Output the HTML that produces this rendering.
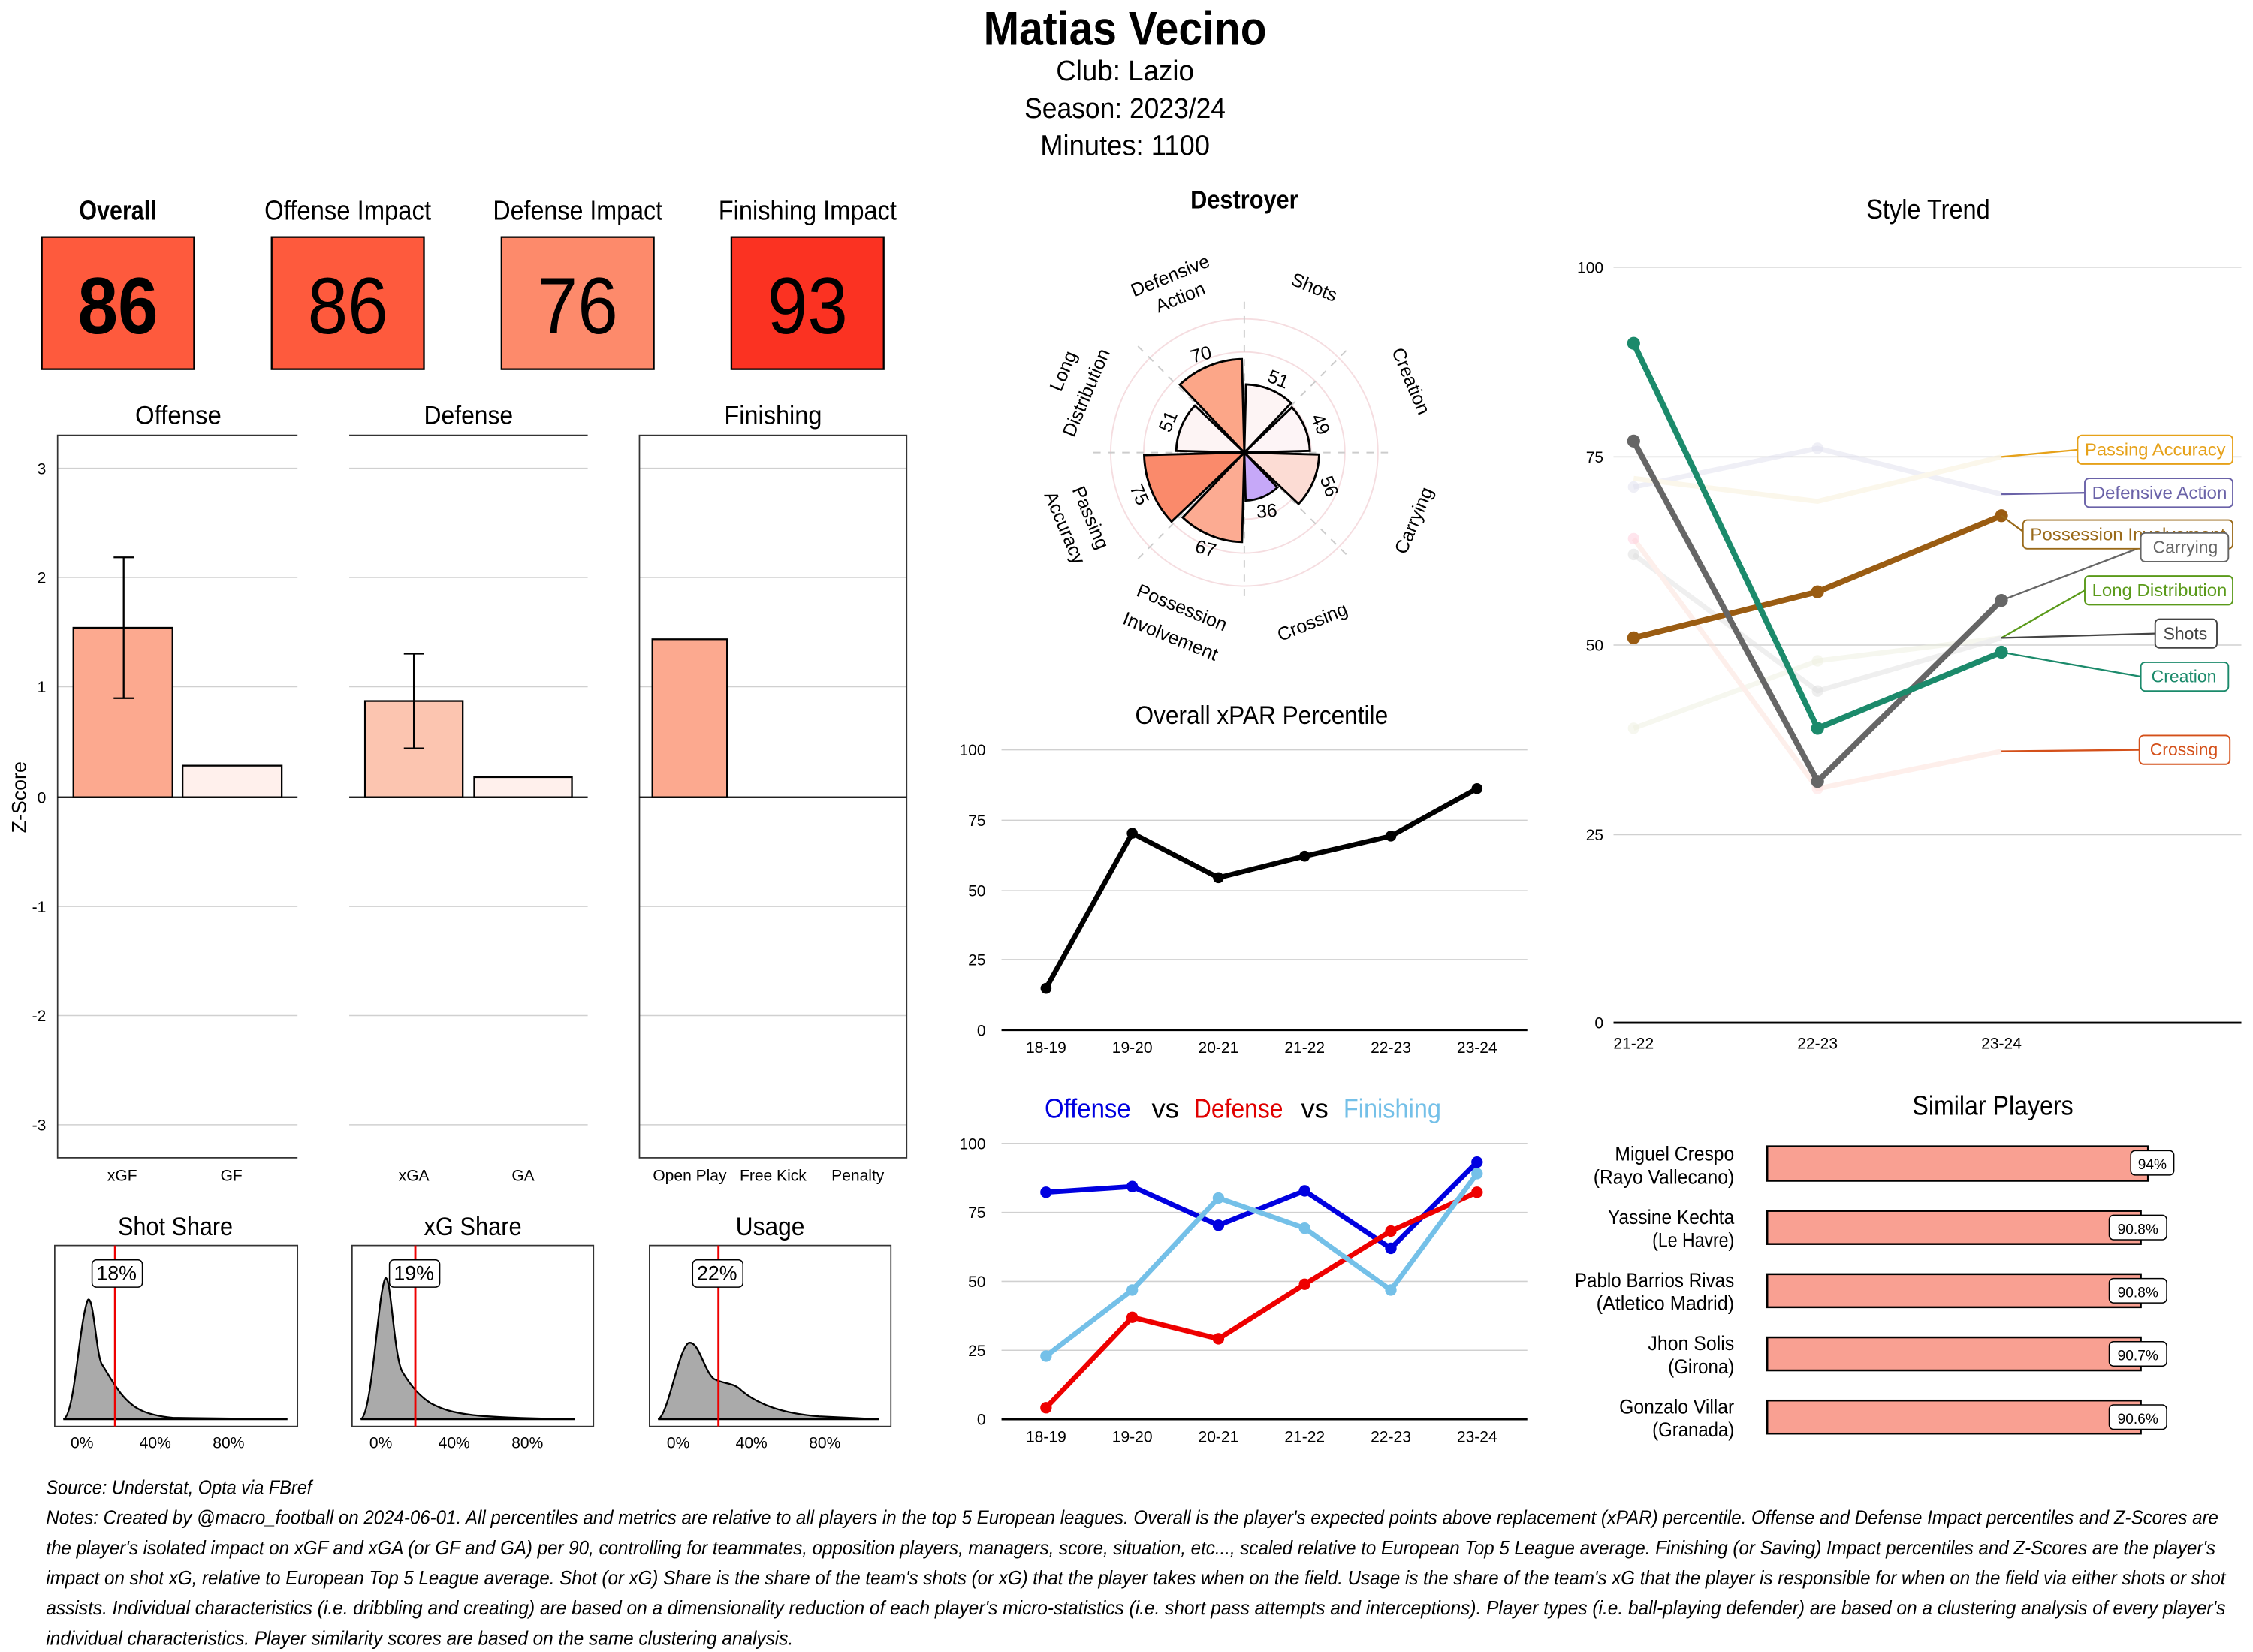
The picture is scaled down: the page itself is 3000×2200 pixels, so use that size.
<!DOCTYPE html>
<html><head><meta charset="utf-8"><style>
html,body{margin:0;padding:0;background:#fff;}
svg{display:block;}
text{font-family:"Liberation Sans Narrow","Liberation Sans",sans-serif;fill:#000;}
.ar{font-family:"Liberation Sans",sans-serif;}
.tk{font-size:11px;fill:#444;}
.g{stroke:#d0d0d0;stroke-width:0.8;}
</style></head><body>
<svg width="3000" height="2200" viewBox="0 0 1568 1150" xmlns="http://www.w3.org/2000/svg">
<rect width="1568" height="1150" fill="#fff"/>
<!-- Header -->
<text x="783" y="31" text-anchor="middle" font-size="33" font-weight="bold" textLength="197" lengthAdjust="spacingAndGlyphs">Matias Vecino</text>
<text x="783" y="56" text-anchor="middle" font-size="20" textLength="96" lengthAdjust="spacingAndGlyphs">Club:  Lazio</text>
<text x="783" y="82" text-anchor="middle" font-size="20" textLength="140" lengthAdjust="spacingAndGlyphs">Season:  2023/24</text>
<text x="783" y="108" text-anchor="middle" font-size="20" textLength="118" lengthAdjust="spacingAndGlyphs">Minutes:  1100</text>

<!-- Impact boxes -->
<text x="82" y="153" text-anchor="middle" font-size="19" font-weight="bold" textLength="54" lengthAdjust="spacingAndGlyphs">Overall</text>
<text x="242" y="153" text-anchor="middle" font-size="19" textLength="116" lengthAdjust="spacingAndGlyphs">Offense Impact</text>
<text x="402" y="153" text-anchor="middle" font-size="19" textLength="118" lengthAdjust="spacingAndGlyphs">Defense Impact</text>
<text x="562" y="153" text-anchor="middle" font-size="19" textLength="124" lengthAdjust="spacingAndGlyphs">Finishing Impact</text>
<rect x="29" y="165" width="106" height="92" fill="#fe5a3d" stroke="#000" stroke-width="1.2"/>
<rect x="189" y="165" width="106" height="92" fill="#fe5a3d" stroke="#000" stroke-width="1.2"/>
<rect x="349" y="165" width="106" height="92" fill="#fd8a6b" stroke="#000" stroke-width="1.2"/>
<rect x="509" y="165" width="106" height="92" fill="#fb3222" stroke="#000" stroke-width="1.2"/>
<text x="82" y="232" text-anchor="middle" font-size="56" font-weight="bold" textLength="56" lengthAdjust="spacingAndGlyphs">86</text>
<text x="242" y="232" text-anchor="middle" font-size="56" textLength="56" lengthAdjust="spacingAndGlyphs">86</text>
<text x="402" y="232" text-anchor="middle" font-size="56" textLength="56" lengthAdjust="spacingAndGlyphs">76</text>
<text x="562" y="232" text-anchor="middle" font-size="56" textLength="56" lengthAdjust="spacingAndGlyphs">93</text>

<!-- Bar panels -->
<text x="124" y="295" text-anchor="middle" font-size="18" textLength="60" lengthAdjust="spacingAndGlyphs">Offense</text>
<text x="326" y="295" text-anchor="middle" font-size="18" textLength="62" lengthAdjust="spacingAndGlyphs">Defense</text>
<text x="538" y="295" text-anchor="middle" font-size="18" textLength="68" lengthAdjust="spacingAndGlyphs">Finishing</text>
<g class="g">
<line x1="40" x2="207" y1="326" y2="326"/><line x1="40" x2="207" y1="402" y2="402"/><line x1="40" x2="207" y1="478" y2="478"/><line x1="40" x2="207" y1="631" y2="631"/><line x1="40" x2="207" y1="707" y2="707"/><line x1="40" x2="207" y1="783" y2="783"/>
<line x1="243" x2="409" y1="326" y2="326"/><line x1="243" x2="409" y1="402" y2="402"/><line x1="243" x2="409" y1="478" y2="478"/><line x1="243" x2="409" y1="631" y2="631"/><line x1="243" x2="409" y1="707" y2="707"/><line x1="243" x2="409" y1="783" y2="783"/>
<line x1="445" x2="631" y1="326" y2="326"/><line x1="445" x2="631" y1="402" y2="402"/><line x1="445" x2="631" y1="478" y2="478"/><line x1="445" x2="631" y1="631" y2="631"/><line x1="445" x2="631" y1="707" y2="707"/><line x1="445" x2="631" y1="783" y2="783"/>
</g>
<g stroke="#333" stroke-width="0.9" fill="none">
<path d="M207 303H40V806H207"/>
<line x1="243" x2="409" y1="303" y2="303"/>
<rect x="445" y="303" width="186" height="503"/>
</g>
<g text-anchor="end" class="tk">
<text x="32" y="330">3</text><text x="32" y="406">2</text><text x="32" y="482">1</text><text x="32" y="559">0</text><text x="32" y="635">-1</text><text x="32" y="711">-2</text><text x="32" y="787">-3</text>
</g>
<text x="18" y="555" font-size="14" text-anchor="middle" transform="rotate(-90 18 555)">Z-Score</text>
<g stroke="#000" stroke-width="1.2">
<rect x="51" y="437" width="69" height="118" fill="#fca98f"/>
<rect x="127" y="533" width="69" height="22" fill="#fff0ec"/>
<rect x="254" y="488" width="68" height="67" fill="#fcc5b0"/>
<rect x="330" y="541" width="68" height="14" fill="#fff0ec"/>
<rect x="454" y="445" width="52" height="110" fill="#fca98f"/>
<path d="M86 388V486M79 388H93M79 486H93 M288 455V521M281 455H295M281 521H295" fill="none"/>
<line x1="40" x2="207" y1="555" y2="555"/><line x1="243" x2="409" y1="555" y2="555"/><line x1="445" x2="631" y1="555" y2="555"/>
</g>
<g text-anchor="middle" class="tk">
<text x="85" y="822">xGF</text><text x="161" y="822">GF</text>
<text x="288" y="822">xGA</text><text x="364" y="822">GA</text>
<text x="480" y="822">Open Play</text><text x="538" y="822">Free Kick</text><text x="597" y="822">Penalty</text>
</g>

<!-- Density panels -->
<text x="122" y="860" text-anchor="middle" font-size="18" textLength="80" lengthAdjust="spacingAndGlyphs">Shot Share</text>
<text x="329" y="860" text-anchor="middle" font-size="18" textLength="68" lengthAdjust="spacingAndGlyphs">xG Share</text>
<text x="536" y="860" text-anchor="middle" font-size="18" textLength="48" lengthAdjust="spacingAndGlyphs">Usage</text>
<path d="M44 988 C52 986 55 920 61 905 C65 900 67 945 71 950 C76 958 78 962 84 970 C92 980 100 985 120 987 L200 988Z" fill="#aaa" stroke="#000" stroke-width="1.2"/>
<path d="M251 988 C259 985 263 900 268 890 C272 885 274 945 280 955 C286 965 292 972 300 977 C315 985 330 987 400 988Z" fill="#aaa" stroke="#000" stroke-width="1.2"/>
<path d="M458 988 C465 985 472 940 479 935 C486 932 490 955 497 960 C505 964 510 962 516 968 C528 978 545 984 570 986 L612 988Z" fill="#aaa" stroke="#000" stroke-width="1.2"/>
<g stroke="#333" stroke-width="0.9" fill="none">
<rect x="38" y="867" width="169" height="126"/><rect x="245" y="867" width="168" height="126"/><rect x="452" y="867" width="168" height="126"/>
</g>
<g stroke="#e00" stroke-width="1.5"><line x1="80" x2="80" y1="867" y2="993"/><line x1="289" x2="289" y1="867" y2="993"/><line x1="500" x2="500" y1="867" y2="993"/></g>
<g fill="#fff" stroke="#000" stroke-width="0.8"><rect x="64" y="877" width="35" height="19" rx="3"/><rect x="271" y="877" width="35" height="19" rx="3"/><rect x="482" y="877" width="35" height="19" rx="3"/></g>
<g text-anchor="middle" font-size="14"><text x="81" y="891">18%</text><text x="288" y="891">19%</text><text x="499" y="891">22%</text></g>
<g text-anchor="middle" class="tk" font-size="10">
<text x="57" y="1008">0%</text><text x="108" y="1008">40%</text><text x="159" y="1008">80%</text>
<text x="265" y="1008">0%</text><text x="316" y="1008">40%</text><text x="367" y="1008">80%</text>
<text x="472" y="1008">0%</text><text x="523" y="1008">40%</text><text x="574" y="1008">80%</text>
</g>

<!-- Polar -->
<text x="866" y="145" text-anchor="middle" font-size="18" font-weight="bold" textLength="75" lengthAdjust="spacingAndGlyphs">Destroyer</text>
<g transform="translate(866 315)">
<g fill="none" stroke="#f5dde0" stroke-width="1">
<circle r="23"/><circle r="46.5"/><circle r="70"/><circle r="93"/>
</g>
<g stroke="#ccc" stroke-width="1" stroke-dasharray="5 5">
<line x1="0" y1="-105" x2="0" y2="105"/><line x1="-105" y1="0" x2="105" y2="0"/>
<line x1="-74" y1="-74" x2="74" y2="74"/><line x1="-74" y1="74" x2="74" y2="-74"/>
</g>
<g stroke="#000" stroke-width="1.5">
<path d="M0 0L1.2 -47.4A47.4 47.4 0 0 1 32.6 -34.4Z" fill="#fdf4f4"/>
<path transform="rotate(45)" d="M0 0L1.2 -45.6A45.6 45.6 0 0 1 31.4 -33.1Z" fill="#fdf4f6"/>
<path transform="rotate(90)" d="M0 0L1.4 -52.1A52.1 52.1 0 0 1 35.8 -37.8Z" fill="#fcdcd4"/>
<path transform="rotate(135)" d="M0 0L0.9 -33.5A33.5 33.5 0 0 1 23.0 -24.3Z" fill="#c6a8f8"/>
<path transform="rotate(180)" d="M0 0L1.6 -62.3A62.3 62.3 0 0 1 42.9 -45.2Z" fill="#fcab92"/>
<path transform="rotate(225)" d="M0 0L1.8 -69.8A69.8 69.8 0 0 1 48.0 -50.6Z" fill="#fa8a6b"/>
<path transform="rotate(270)" d="M0 0L1.2 -47.4A47.4 47.4 0 0 1 32.6 -34.4Z" fill="#fdf4f4"/>
<path transform="rotate(315)" d="M0 0L1.7 -65.1A65.1 65.1 0 0 1 44.8 -47.2Z" fill="#fca688"/>
</g>
</g>
<g class="ar" font-size="13" text-anchor="middle">
<text transform="translate(888 268) rotate(22)">51</text>
<text transform="translate(915 297) rotate(67)">49</text>
<text transform="translate(921 340) rotate(70)">56</text>
<text transform="translate(882 360) rotate(-5)">36</text>
<text transform="translate(838 386) rotate(15)">67</text>
<text transform="translate(789 346) rotate(67)">75</text>
<text transform="translate(817 295) rotate(-67)">51</text>
<text transform="translate(837 251) rotate(-15)">70</text>
</g>
<g class="ar" font-size="13" text-anchor="middle">
<text transform="translate(816 196) rotate(-22)">Defensive</text>
<text transform="translate(823 211) rotate(-22)">Action</text>
<text transform="translate(913 204) rotate(22)">Shots</text>
<text transform="translate(978 267) rotate(67)">Creation</text>
<text transform="translate(988 364) rotate(-67)">Carrying</text>
<text transform="translate(915 437) rotate(-22)">Crossing</text>
<text transform="translate(821 427) rotate(22)">Possession</text>
<text transform="translate(813 447) rotate(22)">Involvement</text>
<text transform="translate(755 362) rotate(67)">Passing</text>
<text transform="translate(737 369) rotate(67)">Accuracy</text>
<text transform="translate(744 260) rotate(-67)">Long</text>
<text transform="translate(760 275) rotate(-67)">Distribution</text>
</g>

<!-- xPAR -->
<text x="878" y="504" text-anchor="middle" font-size="18" textLength="176" lengthAdjust="spacingAndGlyphs">Overall xPAR Percentile</text>
<g class="g"><line x1="697" x2="1063" y1="522" y2="522"/><line x1="697" x2="1063" y1="571" y2="571"/><line x1="697" x2="1063" y1="620" y2="620"/><line x1="697" x2="1063" y1="668" y2="668"/></g>
<line x1="697" x2="1063" y1="717" y2="717" stroke="#000" stroke-width="1.5"/>
<g class="tk ar" text-anchor="end"><text x="686" y="526">100</text><text x="686" y="575">75</text><text x="686" y="624">50</text><text x="686" y="672">25</text><text x="686" y="721">0</text></g>
<g class="tk ar" text-anchor="middle"><text x="728" y="733">18-19</text><text x="788" y="733">19-20</text><text x="848" y="733">20-21</text><text x="908" y="733">21-22</text><text x="968" y="733">22-23</text><text x="1028" y="733">23-24</text></g>
<polyline points="728,688 788,580 848,611 908,596 968,582 1028,549" fill="none" stroke="#000" stroke-width="3.5"/>
<g fill="#000"><circle cx="728" cy="688" r="3.8"/><circle cx="788" cy="580" r="3.8"/><circle cx="848" cy="611" r="3.8"/><circle cx="908" cy="596" r="3.8"/><circle cx="968" cy="582" r="3.8"/><circle cx="1028" cy="549" r="3.8"/></g>

<!-- O vs D vs F -->
<g font-size="19" text-anchor="middle"><text x="757" y="778" style="fill:#0000e0" textLength="60" lengthAdjust="spacingAndGlyphs">Offense</text><text x="811" y="778">vs</text><text x="862" y="778" style="fill:#e00000" textLength="62" lengthAdjust="spacingAndGlyphs">Defense</text><text x="915" y="778">vs</text><text x="969" y="778" style="fill:#74c0e8" textLength="68" lengthAdjust="spacingAndGlyphs">Finishing</text></g>
<g class="g"><line x1="697" x2="1063" y1="796" y2="796"/><line x1="697" x2="1063" y1="844" y2="844"/><line x1="697" x2="1063" y1="892" y2="892"/><line x1="697" x2="1063" y1="940" y2="940"/></g>
<line x1="697" x2="1063" y1="988" y2="988" stroke="#000" stroke-width="1.5"/>
<g class="tk ar" text-anchor="end"><text x="686" y="800">100</text><text x="686" y="848">75</text><text x="686" y="896">50</text><text x="686" y="944">25</text><text x="686" y="992">0</text></g>
<g class="tk ar" text-anchor="middle"><text x="728" y="1004">18-19</text><text x="788" y="1004">19-20</text><text x="848" y="1004">20-21</text><text x="908" y="1004">21-22</text><text x="968" y="1004">22-23</text><text x="1028" y="1004">23-24</text></g>
<g fill="none" stroke-width="3.5">
<polyline points="728,830 788,826 848,853 908,829 968,869 1028,809" stroke="#0000e0"/>
<polyline points="728,980 788,917 848,932 908,894 968,857 1028,830" stroke="#ee0000"/>
<polyline points="728,944 788,898 848,834 908,855 968,898 1028,817" stroke="#74c0e8"/>
</g>
<g fill="#0000e0"><circle cx="728" cy="830" r="4"/><circle cx="788" cy="826" r="4"/><circle cx="848" cy="853" r="4"/><circle cx="908" cy="829" r="4"/><circle cx="968" cy="869" r="4"/><circle cx="1028" cy="809" r="4"/></g>
<g fill="#ee0000"><circle cx="728" cy="980" r="4"/><circle cx="788" cy="917" r="4"/><circle cx="848" cy="932" r="4"/><circle cx="908" cy="894" r="4"/><circle cx="968" cy="857" r="4"/><circle cx="1028" cy="830" r="4"/></g>
<g fill="#74c0e8"><circle cx="728" cy="944" r="4"/><circle cx="788" cy="898" r="4"/><circle cx="848" cy="834" r="4"/><circle cx="908" cy="855" r="4"/><circle cx="968" cy="898" r="4"/><circle cx="1028" cy="817" r="4"/></g>

<!-- Style trend -->
<text x="1342" y="152" text-anchor="middle" font-size="19" textLength="86" lengthAdjust="spacingAndGlyphs">Style Trend</text>
<g class="g"><line x1="1123" x2="1560" y1="186" y2="186"/><line x1="1123" x2="1560" y1="318" y2="318"/><line x1="1123" x2="1560" y1="449" y2="449"/><line x1="1123" x2="1560" y1="581" y2="581"/></g>
<line x1="1123" x2="1560" y1="712" y2="712" stroke="#000" stroke-width="1.5"/>
<g class="tk ar" text-anchor="end"><text x="1116" y="190">100</text><text x="1116" y="322">75</text><text x="1116" y="453">50</text><text x="1116" y="585">25</text><text x="1116" y="716">0</text></g>
<g class="tk ar" text-anchor="middle"><text x="1137" y="730">21-22</text><text x="1265" y="730">22-23</text><text x="1393" y="730">23-24</text></g>
<g fill="none" stroke-width="3.5" opacity="0.5">
<polyline points="1137,339 1265,312 1393,344" stroke="#e0e0ee"/>
<polyline points="1137,333 1265,349 1393,318" stroke="#f8f0d8"/>
<polyline points="1137,507 1265,460 1393,444" stroke="#eef0e0"/>
<polyline points="1137,386 1265,481 1393,444" stroke="#e0e0e0"/>
<polyline points="1137,375 1265,549 1393,523" stroke="#fde0d8"/>
</g>
<g opacity="0.5"><circle cx="1137" cy="339" r="4" fill="#e0e0ee"/><circle cx="1265" cy="312" r="4" fill="#e0e0ee"/><circle cx="1137" cy="507" r="4" fill="#eef0e0"/><circle cx="1265" cy="460" r="4" fill="#eef0e0"/><circle cx="1137" cy="386" r="4" fill="#ddd"/><circle cx="1265" cy="481" r="4" fill="#ddd"/><circle cx="1137" cy="375" r="4" fill="#fcd"/><circle cx="1265" cy="549" r="4" fill="#fdd"/></g>
<g fill="none" stroke-width="4">
<polyline points="1137,444 1265,412 1393,359" stroke="#9a5c12"/>
<polyline points="1137,307 1265,544 1393,418" stroke="#666"/>
<polyline points="1137,239 1265,507 1393,454" stroke="#1b8a6b"/>
</g>
<g><circle cx="1137" cy="444" r="4.5" fill="#9a5c12"/><circle cx="1265" cy="412" r="4.5" fill="#9a5c12"/><circle cx="1393" cy="359" r="4.5" fill="#9a5c12"/>
<circle cx="1137" cy="307" r="4.5" fill="#666"/><circle cx="1265" cy="544" r="4.5" fill="#666"/><circle cx="1393" cy="418" r="4.5" fill="#666"/>
<circle cx="1137" cy="239" r="4.5" fill="#1b8a6b"/><circle cx="1265" cy="507" r="4.5" fill="#1b8a6b"/><circle cx="1393" cy="454" r="4.5" fill="#1b8a6b"/></g>
<g fill="none" stroke-width="1.2">
<polyline points="1393,318 1447,313" stroke="#e6a119"/>
<polyline points="1393,344 1451,343" stroke="#6a62a8"/>
<polyline points="1393,359 1408,370" stroke="#9a6a1a"/>
<polyline points="1393,418 1490,381" stroke="#666"/>
<polyline points="1393,444 1451,411" stroke="#5a9a1a"/>
<polyline points="1393,444 1500,441" stroke="#444"/>
<polyline points="1393,454 1490,471" stroke="#1b8a6b"/>
<polyline points="1393,523 1490,522" stroke="#d4501a"/>
</g>
<g fill="#fff" stroke-width="1">
<rect x="1446" y="303" width="108" height="20" rx="3" stroke="#e6a119"/>
<rect x="1451" y="333" width="103" height="20" rx="3" stroke="#6a62a8"/>
<rect x="1408" y="362" width="146" height="20" rx="3" stroke="#9a6a1a"/>
<rect x="1451" y="401" width="103" height="20" rx="3" stroke="#5a9a1a"/>
<rect x="1500" y="431" width="43" height="20" rx="3" stroke="#444"/>
<rect x="1490" y="461" width="61" height="20" rx="3" stroke="#1b8a6b"/>
<rect x="1489" y="512" width="63" height="20" rx="3" stroke="#d4501a"/>
</g>
<g class="ar" font-size="12" text-anchor="middle">
<text x="1500" y="317" style="fill:#e6a119" textLength="98" lengthAdjust="spacingAndGlyphs">Passing Accuracy</text>
<text x="1503" y="347" style="fill:#6a62a8" textLength="94" lengthAdjust="spacingAndGlyphs">Defensive Action</text>
<text x="1481" y="376" style="fill:#9a6a1a" textLength="136" lengthAdjust="spacingAndGlyphs">Possession Involvement</text>
<rect x="1490" y="371" width="61" height="20" rx="3" fill="#fff" stroke="#666"/>
<text x="1521" y="385" style="fill:#666">Carrying</text>
<text x="1503" y="415" style="fill:#5a9a1a" textLength="94" lengthAdjust="spacingAndGlyphs">Long Distribution</text>
<text x="1521" y="445" style="fill:#444">Shots</text>
<text x="1520" y="475" style="fill:#1b8a6b">Creation</text>
<text x="1520" y="526" style="fill:#d4501a">Crossing</text>
</g>

<!-- Similar players -->
<text x="1387" y="776" text-anchor="middle" font-size="19" textLength="112" lengthAdjust="spacingAndGlyphs">Similar Players</text>
<g fill="#f9a092" stroke="#000" stroke-width="1.3">
<rect x="1230" y="798" width="265" height="24"/>
<rect x="1230" y="843" width="260" height="23"/>
<rect x="1230" y="887" width="260" height="23"/>
<rect x="1230" y="931" width="260" height="23"/>
<rect x="1230" y="975" width="260" height="23"/>
</g>
<g fill="#fff" stroke="#000" stroke-width="0.8">
<rect x="1483" y="801" width="30" height="17" rx="3"/>
<rect x="1468" y="846" width="40" height="17" rx="3"/>
<rect x="1468" y="890" width="40" height="17" rx="3"/>
<rect x="1468" y="934" width="40" height="17" rx="3"/>
<rect x="1468" y="978" width="40" height="17" rx="3"/>
</g>
<g class="ar" font-size="10" text-anchor="middle">
<text x="1498" y="814">94%</text><text x="1488" y="859">90.8%</text><text x="1488" y="903">90.8%</text><text x="1488" y="947">90.7%</text><text x="1488" y="991">90.6%</text>
</g>
<g font-size="14" text-anchor="end">
<text x="1207" y="808" textLength="83" lengthAdjust="spacingAndGlyphs">Miguel Crespo</text><text x="1207" y="824" textLength="98" lengthAdjust="spacingAndGlyphs">(Rayo Vallecano)</text>
<text x="1207" y="852" textLength="88" lengthAdjust="spacingAndGlyphs">Yassine Kechta</text><text x="1207" y="868" textLength="57" lengthAdjust="spacingAndGlyphs">(Le Havre)</text>
<text x="1207" y="896" textLength="111" lengthAdjust="spacingAndGlyphs">Pablo Barrios Rivas</text><text x="1207" y="912" textLength="96" lengthAdjust="spacingAndGlyphs">(Atletico Madrid)</text>
<text x="1207" y="940" textLength="60" lengthAdjust="spacingAndGlyphs">Jhon Solis</text><text x="1207" y="956" textLength="46" lengthAdjust="spacingAndGlyphs">(Girona)</text>
<text x="1207" y="984" textLength="80" lengthAdjust="spacingAndGlyphs">Gonzalo Villar</text><text x="1207" y="1000" textLength="57" lengthAdjust="spacingAndGlyphs">(Granada)</text>
</g>

<!-- Footer -->
<g font-size="13.5" font-style="italic">
<text x="32" y="1040" textLength="185" lengthAdjust="spacingAndGlyphs">Source: Understat, Opta via FBref</text>
<text x="32" y="1061" textLength="1512" lengthAdjust="spacingAndGlyphs">Notes: Created by @macro_football on 2024-06-01. All percentiles and metrics are relative to all players in the top 5 European leagues. Overall is the player's expected points above replacement (xPAR) percentile. Offense and Defense Impact percentiles and Z-Scores are</text>
<text x="32" y="1082" textLength="1510" lengthAdjust="spacingAndGlyphs">the player's isolated impact on xGF and xGA (or GF and GA) per 90, controlling for teammates, opposition players, managers, score, situation, etc..., scaled relative to European Top 5 League average. Finishing (or Saving) Impact percentiles and Z-Scores are the player's</text>
<text x="32" y="1103" textLength="1517" lengthAdjust="spacingAndGlyphs">impact on shot xG, relative to European Top 5 League average. Shot (or xG) Share is the share of the team's shots (or xG) that the player takes when on the field. Usage is the share of the team's xG that the player is responsible for when on the field via either shots or shot</text>
<text x="32" y="1124" textLength="1517" lengthAdjust="spacingAndGlyphs">assists. Individual characteristics (i.e. dribbling and creating) are based on a dimensionality reduction of each player's micro-statistics (i.e. short pass attempts and interceptions). Player types (i.e. ball-playing defender) are based on a clustering analysis of every player's</text>
<text x="32" y="1145" textLength="520" lengthAdjust="spacingAndGlyphs">individual characteristics. Player similarity scores are based on the same clustering analysis.</text>
</g>
</svg>
</body></html>
